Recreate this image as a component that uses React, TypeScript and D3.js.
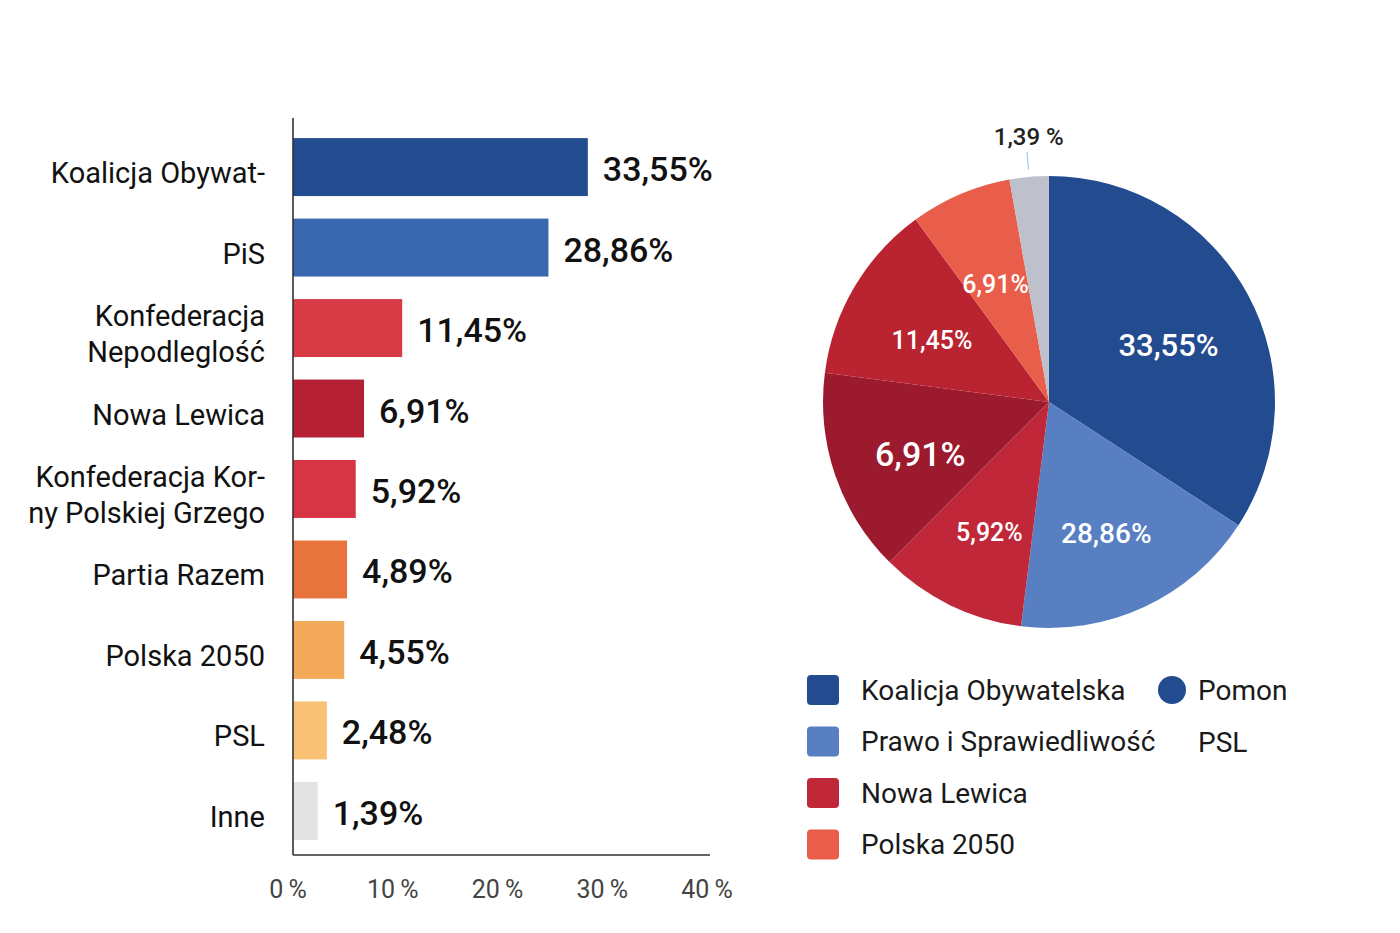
import React from "react";
import * as d3 from "d3";

// ---------- data ----------
const categories = [
  "Koalicja Obywat-",
  "PiS",
  "Konfederacja\nNepodleglość",
  "Nowa Lewica",
  "Konfederacja Kor-\nny Polskiej Grzego",
  "Partia Razem",
  "Polska 2050",
  "PSL",
  "Inne",
];
const values = [33.55, 28.86, 11.45, 6.91, 5.92, 4.89, 4.55, 2.48, 1.39];
const barColors = [
  "#234B8F",
  "#3967B0",
  "#D83A46",
  "#B52035",
  "#D73545",
  "#E8743D",
  "#F4AA5B",
  "#F8C174",
  "#E3E3E3",
];
const xTicks = [0, 10, 20, 30, 40];

const pieLabels = ["33,55%", "28,86%", "5,92%", "6,91%", "11,45%", "6,91%", "1,39 %"];
const pieShares = [34.2, 17.8, 10.5, 14.6, 12.9, 7.25, 2.8];
const pieColors = ["#234B8F", "#587FC1", "#C0283A", "#9C1A2D", "#BA2330", "#E95E4A", "#BEC0CB"];
const pieFontSizes = [31, 28, 25, 34, 25, 25, 24];

const legendLabels = ["Koalicja Obywatelska", "Prawo i Sprawiedliwość", "Nowa Lewica", "Polska 2050"];
const legendColors = ["#234B8F", "#587FC1", "#C0283A", "#E95E4A"];
const legendExtra = ["Pomon", "PSL"];
const legendExtraColor = "#234B8F";

// ---------- layout ----------
const W = 1400;
const H = 933;
const AXIS_X = 293;
const AXIS_BOTTOM = 855;
const FONT = "Roboto, 'Open Sans', sans-serif";

const locale = d3.formatLocale({ decimal: ",", thousands: " ", grouping: [3], currency: ["", " zł"] });
const fmt = locale.format(".2f");

export default function App() {
  const y = d3.scaleBand<string>().domain(categories).range([118, 860]).paddingInner(0.28).paddingOuter(0.25);
  const xBar = d3.scaleLinear().domain([0, 40]).range([306, 642]);
  const xTick = d3.scaleLinear().domain([0, 40]).range([288, 707]);

  const cx = 1049;
  const cy = 402;
  const R = 226;
  const pie = d3.pie<number>().sort(null).value((d) => d)(pieShares);
  const arc = d3.arc<d3.PieArcDatum<number>>().innerRadius(0).outerRadius(R);
  const labelArc = d3.arc<d3.PieArcDatum<number>>().innerRadius(136).outerRadius(136);
  const last = pie.length - 1;
  const midLast = (pie[last].startAngle + pie[last].endAngle) / 2;
  const polar = (r: number, a: number) => [Math.sin(a) * r, -Math.cos(a) * r];

  return (
    <svg width={W} height={H} style={{ position: "absolute", left: 0, top: 0, background: "#fff" }} fontFamily={FONT}>
      <rect width={W} height={H} fill="#fff" />
      {/* bars */}
      {categories.map((c, i) => {
        const y0 = y(c)!;
        const bh = y.bandwidth();
        const x1 = xBar(values[i]);
        const lines = c.split("\n");
        const mid = y0 + bh / 2;
        return (
          <g key={c}>
            <rect x={AXIS_X} y={y0} width={x1 - AXIS_X} height={bh} fill={barColors[i]} />
            <text
              x={x1 + 15}
              y={mid + 2}
              dominantBaseline="central"
              fontSize={34}
              fontWeight={500}
              fill="#111"
            >
              {fmt(values[i]) + "%"}
            </text>
            {lines.map((l, j) => (
              <text
                key={j}
                x={265}
                y={mid + (j - (lines.length - 1) / 2) * 36 + 6}
                dominantBaseline="central"
                textAnchor="end"
                fontSize={29}
                fill="#111"
              >
                {l}
              </text>
            ))}
          </g>
        );
      })}
      <line x1={AXIS_X} x2={AXIS_X} y1={118} y2={AXIS_BOTTOM} stroke="#333" strokeWidth={1.6} />
      <line x1={AXIS_X} x2={710} y1={AXIS_BOTTOM} y2={AXIS_BOTTOM} stroke="#333" strokeWidth={1.6} />
      {xTicks.map((t) => (
        <text key={t} x={xTick(t)} y={889} textAnchor="middle" dominantBaseline="central" fontSize={25} fill="#444">
          {t + "\u2009%"}
        </text>
      ))}

      {/* pie */}
      <g transform={`translate(${cx},${cy})`}>
        {pie.map((p, i) => (
          <path key={i} d={arc(p)!} fill={pieColors[i]} />
        ))}
        {pie.slice(0, last).map((p, i) => {
          const [lx, ly] = labelArc.centroid(p);
          return (
            <text
              key={i}
              x={lx}
              y={ly + 8}
              textAnchor="middle"
              dominantBaseline="central"
              fontSize={pieFontSizes[i]}
              fontWeight={500}
              fill="#fff"
            >
              {pieLabels[i]}
            </text>
          );
        })}
        {(() => {
          const [ax, ay] = polar(R + 7, midLast);
          const [bx, by] = polar(R + 25, midLast);
          const [tx, ty] = polar(R + 38, midLast);
          return (
            <g>
              <line x1={ax} y1={ay} x2={bx} y2={by} stroke="#A9C9E0" strokeWidth={1.2} />
              <text x={tx + 3} y={ty - 2} textAnchor="middle" dominantBaseline="central" fontSize={pieFontSizes[last]} fontWeight={500} fill="#222">
                {pieLabels[last]}
              </text>
            </g>
          );
        })()}
      </g>

      {/* legend */}
      {legendLabels.map((l, i) => {
        const ly = 690 + i * 51.5;
        return (
          <g key={l}>
            <rect x={807} y={ly - 15} width={32} height={30} rx={4} fill={legendColors[i]} />
            <text x={861} y={ly} dominantBaseline="central" fontSize={28} fill="#1a1a1a">
              {l}
            </text>
          </g>
        );
      })}
      <circle cx={1172} cy={690} r={14} fill={legendExtraColor} />
      {legendExtra.map((l, i) => (
        <text key={l} x={1198} y={690 + i * 52} dominantBaseline="central" fontSize={28} fill="#1a1a1a">
          {l}
        </text>
      ))}
    </svg>
  );
}
